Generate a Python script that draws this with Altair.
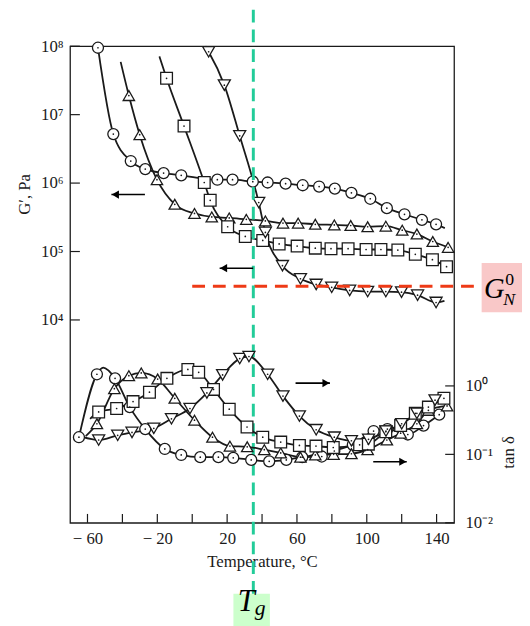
import altair as alt
import pandas as pd

# ---------------- data ----------------
# Storage modulus G' (Pa): marker points
circ_G_T = [-54, -45.2, -35.2, -26.9, -16.4, -6.3, 14.4, 23.1, 34.7, 43.2, 53.5, 63.3, 72.7, 81.7, 91.2, 102, 111.5, 121.6, 131.6, 139.7]
circ_G_V = [9.5e7, 5.2e6, 2.1e6, 1.6e6, 1.4e6, 1.3e6, 1.12e6, 1.12e6, 1.05e6, 1.02e6, 9.8e5, 9.3e5, 8.9e5, 8.3e5, 7.2e5, 5.9e5, 4.3e5, 3.5e5, 2.9e5, 2.5e5]
triu_G_T = [-36.3, -30.1, -20.2, -10, 1.3, 11.2, 21.2, 31, 41.9, 52, 60.7, 70.5, 81.4, 90.8, 100.5, 110.9, 120.3, 128.7, 137.8, 146.6]
triu_G_V = [1.9e7, 5.1e6, 1.12e6, 4.9e5, 3.6e5, 3.2e5, 3.1e5, 2.95e5, 2.8e5, 2.6e5, 2.6e5, 2.5e5, 2.45e5, 2.4e5, 2.3e5, 2.35e5, 2.05e5, 1.8e5, 1.4e5, 1.15e5]
squa_G_T = [-14.7, -4.7, 6.9, 10.3, 20.3, 30.4, 40.4, 49.8, 60.1, 70.5, 79.5, 89.3, 99.6, 108.1, 117.8, 127.8, 137.6, 145.7]
squa_G_V = [3.4e7, 6.8e6, 1.02e6, 5.6e5, 2.3e5, 1.66e5, 1.45e5, 1.29e5, 1.2e5, 1.12e5, 1.1e5, 1.1e5, 1.07e5, 1.07e5, 1.05e5, 9.1e4, 7.6e4, 6.0e4]
trid_G_T = [9.4, 18.4, 27.2, 38.1, 41.9, 51.7, 62, 71, 79.9, 90.2, 100.5, 110.9, 119.9, 129.1, 139.7]
trid_G_V = [8.3e7, 2.7e7, 4.9e6, 5.2e5, 1.9e5, 6.2e4, 4.0e4, 3.3e4, 3.0e4, 2.7e4, 2.6e4, 2.6e4, 2.55e4, 2.3e4, 1.8e4]
# line-only continuation points of the G' curves
circ_G_lineT, circ_G_lineV = [144.7], [2.2e5]
triu_G_lineT, triu_G_lineV = [-41], [5.9e7]
squa_G_lineT, squa_G_lineV = [-18.8], [7.1e7]
trid_G_lineT, trid_G_lineV = [7.5, 144.5], [1.0e8, 1.9e4]

# Loss tangent tan(delta): marker points
circ_t_T = [-64.9, -54.6, -44.2, -35.8, -26.9, -15.7, -6.3, 4.6, 15, 23.5, 33.8, 44.1, 53.9, 63, 74.2, 81.4, 92, 103.9, 111.8, 123.5, 132.5, 141.5]
circ_t_V = [0.178, 1.48, 1.29, 0.49, 0.234, 0.120, 0.098, 0.091, 0.091, 0.089, 0.083, 0.079, 0.083, 0.091, 0.093, 0.112, 0.138, 0.219, 0.234, 0.195, 0.263, 0.38]
triu_t_T = [-54.6, -44.6, -36.3, -29.2, -19.8, -10, 1.3, 11.6, 21.6, 31.5, 41.3, 50.7, 62, 70.5, 81, 91.2, 100.5, 111.5, 119.4, 128.7, 135.3, 146]
triu_t_V = [0.28, 0.91, 1.41, 1.55, 1.26, 0.66, 0.316, 0.178, 0.132, 0.129, 0.117, 0.105, 0.091, 0.098, 0.10, 0.102, 0.117, 0.162, 0.204, 0.28, 0.44, 0.51]
squa_t_T = [-53.6, -43.3, -33.9, -24.5, -14.5, -2.5, 3.7, 12.2, 21.2, 31.4, 40.4, 50.7, 61.4, 70.9, 80.8, 95.9, 100.9, 110.9, 119.4, 127.8, 135.3, 144.2]
squa_t_V = [0.417, 0.468, 0.59, 0.81, 1.29, 1.74, 1.58, 0.89, 0.457, 0.251, 0.178, 0.151, 0.135, 0.132, 0.126, 0.138, 0.141, 0.214, 0.263, 0.398, 0.49, 0.66]
trid_t_T = [-53.6, -42.7, -34.5, -22, -11.9, -1.3, 8.4, 17.4, 27.2, 32.5, 43.2, 52, 61.4, 71, 81.4, 91.2, 101, 111, 120, 128.7, 139.1]
trid_t_V = [0.162, 0.19, 0.209, 0.24, 0.331, 0.468, 0.79, 1.45, 2.51, 2.69, 1.48, 0.71, 0.363, 0.229, 0.178, 0.158, 0.166, 0.219, 0.28, 0.398, 0.62]
circ_t_lineT, circ_t_lineV = [-51], [1.85]
triu_t_lineT, triu_t_lineV = [-61], [0.185]
squa_t_lineT, squa_t_lineV = [-58.5], [0.33]
trid_t_lineT, trid_t_lineV = [-63], [0.18]

# axis ticks / labels
x_ticks = [-60, -40, -20, 0, 20, 40, 60, 80, 100, 120, 140]
x_labels = [-60, -20, 20, 60, 100, 140]
g_ticks = [1e4, 1e5, 1e6, 1e7, 1e8]
g_sup = ['⁴', '⁵', '⁶', '⁷', '⁸']
t_ticks = [0.01, 0.1, 1]
t_sup = ['⁻²', '⁻¹', '⁰']

# annotations
Tg = 35
Tg_line_V = [3.4e8, 1.0]
Tg_box = dict(T1=[23.6], T2=[44.5], v1=[1.0], v2=[0.3])
GN0 = 3.1e4
GN0_line_T = [0, 165.2]
GN0_box = dict(T1=[165.8], T2=[190], v1=[6.8e4], v2=[1.3e4])
arrows_G = dict(T1=[-46.3, 15.7], T2=[-27.1, 34.9], v=[6.8e5, 5.7e4])
arrows_t = dict(T1=[59.2, 103.7], T2=[78.9, 122.9], v=[1.1, 0.078])

# ---------------- build tables ----------------
def rows(series, T, V, marker):
    return [dict(series=series, T=t, v=v, marker=marker) for t, v in zip(T, V)]

G_df = pd.DataFrame(
    rows('circle', circ_G_T, circ_G_V, True) + rows('circle', circ_G_lineT, circ_G_lineV, False)
    + rows('tri_up', triu_G_T, triu_G_V, True) + rows('tri_up', triu_G_lineT, triu_G_lineV, False)
    + rows('square', squa_G_T, squa_G_V, True) + rows('square', squa_G_lineT, squa_G_lineV, False)
    + rows('tri_down', trid_G_T, trid_G_V, True) + rows('tri_down', trid_G_lineT, trid_G_lineV, False)
)
t_df = pd.DataFrame(
    rows('circle', circ_t_T, circ_t_V, True) + rows('circle', circ_t_lineT, circ_t_lineV, False)
    + rows('tri_up', triu_t_T, triu_t_V, True) + rows('tri_up', triu_t_lineT, triu_t_lineV, False)
    + rows('square', squa_t_T, squa_t_V, True) + rows('square', squa_t_lineT, squa_t_lineV, False)
    + rows('tri_down', trid_t_T, trid_t_V, True) + rows('tri_down', trid_t_lineT, trid_t_lineV, False)
)

FONT = 'Liberation Serif'
INK = '#1a1a1a'
W, H = 390, 484

xs = alt.Scale(domain=[-70, 150], nice=False, zero=False)
yG = alt.Scale(type='log', domain=[10.86, 1e8], nice=False)
yT = alt.Scale(type='log', domain=[0.01, 92000], nice=False)

shape_scale = alt.Scale(domain=['circle', 'tri_up', 'square', 'tri_down'],
                        range=['circle', 'triangle-up', 'square', 'triangle-down'])
size_scale = alt.Scale(domain=['circle', 'tri_up', 'square', 'tri_down'], range=[125, 150, 100, 150])

x_axis = alt.Axis(values=x_labels, labelExpr="datum.value < 0 ? '− ' + abs(datum.value) : '' + datum.value",
                  ticks=False, domain=False, grid=False, labelFont=FONT, labelFontSize=17, labelColor=INK,
                  labelPadding=8, title='Temperature, °C', titleFont=FONT, titleFontSize=17,
                  titleFontWeight='normal', titleColor=INK, titlePadding=7)
g_expr = "'10' + " + str(g_sup) + "[round(log(datum.value)/LN10) - 4]"
g_axis = alt.Axis(orient='left', values=g_ticks, labelExpr=g_expr, ticks=False, domain=False, grid=False,
                  labelFont=FONT, labelFontSize=17, labelColor=INK, labelPadding=7,
                  title='G′, Pa', titleFont=FONT, titleFontSize=17, titleFontWeight='normal', titleColor=INK,
                  titleAngle=270, titleX=-46, titleY=150, titleAlign='center', titleBaseline='middle')
t_expr = "'10' + " + str(t_sup) + "[round(log(datum.value)/LN10) + 2]"
t_axis = alt.Axis(orient='right', values=t_ticks, labelExpr=t_expr, ticks=False, domain=False, grid=False,
                  labelFont=FONT, labelFontSize=17, labelColor=INK, labelPadding=11,
                  title='tan δ', titleFont=FONT, titleFontSize=17, titleFontWeight='normal', titleColor=INK,
                  titleAngle=270, titleX=55, titleY=412, titleAlign='center', titleBaseline='middle')


def X(field):
    return alt.X(field, scale=xs, axis=x_axis)


def curve_layers(df, yscale, axis):
    base = alt.Chart(df)
    line = base.mark_line(color=INK, strokeWidth=1.8, interpolate='monotone').encode(
        x=X('T:Q'), y=alt.Y('v:Q', scale=yscale, axis=axis), detail='series:N')
    pts = base.transform_filter('datum.marker').mark_point(
        filled=True, fill='white', stroke=INK, strokeWidth=1.3, opacity=1).encode(
        x=X('T:Q'), y=alt.Y('v:Q', scale=yscale, axis=axis),
        shape=alt.Shape('series:N', scale=shape_scale, legend=None),
        size=alt.Size('series:N', scale=size_scale, legend=None))
    dots = base.transform_filter('datum.marker').mark_circle(color=INK, size=3, opacity=1).encode(
        x=X('T:Q'), y=alt.Y('v:Q', scale=yscale, axis=axis))
    return [line, pts, dots]


def arrow_layers(d, yscale, axis, head_left):
    df = pd.DataFrame(d)
    shaft = alt.Chart(df).mark_rule(color='black', strokeWidth=1.6).encode(
        x=X('T1:Q'), x2='T2:Q', y=alt.Y('v:Q', scale=yscale, axis=axis))
    head = alt.Chart(df).mark_point(shape='triangle-left' if head_left else 'triangle-right',
                                    filled=True, color='black', size=70, opacity=1,
                                    xOffset=4 if head_left else -4).encode(
        x=X('T1:Q' if head_left else 'T2:Q'), y=alt.Y('v:Q', scale=yscale, axis=axis))
    return [shaft, head]

# inward ticks
xt = alt.Chart(pd.DataFrame({'T': x_ticks})).mark_rule(color=INK, strokeWidth=1.2).encode(
    x=X('T:Q'), y=alt.value(H), y2=alt.value(H - 9))
gt = alt.Chart(pd.DataFrame({'v': g_ticks})).mark_rule(color=INK, strokeWidth=1.2).encode(
    y=alt.Y('v:Q', scale=yG, axis=g_axis), x=alt.value(0), x2=alt.value(10))
tt = alt.Chart(pd.DataFrame({'v': t_ticks})).mark_rule(color=INK, strokeWidth=1.2).encode(
    y=alt.Y('v:Q', scale=yT, axis=t_axis), x=alt.value(W - 9), x2=alt.value(W))

# annotations (in G' coordinates)
tg_box = alt.Chart(pd.DataFrame(Tg_box)).mark_rect(color='#ccffcc').encode(
    x=X('T1:Q'), x2='T2:Q', y=alt.Y('v1:Q', scale=yG, axis=g_axis), y2='v2:Q')
tg_line = alt.Chart(pd.DataFrame({'T': [Tg, Tg], 'v': Tg_line_V})).mark_line(
    color='#22cc99', strokeWidth=3, strokeDash=[13, 7]).encode(
    x=X('T:Q'), y=alt.Y('v:Q', scale=yG, axis=g_axis), order='v:Q')
gn_box = alt.Chart(pd.DataFrame(GN0_box)).mark_rect(color='#f9c8c8').encode(
    x=X('T1:Q'), x2='T2:Q', y=alt.Y('v1:Q', scale=yG, axis=g_axis), y2='v2:Q')
gn_line = alt.Chart(pd.DataFrame({'T': GN0_line_T, 'v': [GN0, GN0]})).mark_line(
    color='#ee3a16', strokeWidth=3, strokeDash=[13, 8]).encode(
    x=X('T:Q'), y=alt.Y('v:Q', scale=yG, axis=g_axis))


def label(text, T, v, size, align, italic=True):
    return alt.Chart(pd.DataFrame({'T': [T], 'v': [v], 's': [text]})).mark_text(
        font=FONT, fontSize=size, fontStyle='italic' if italic else 'normal', align=align,
        baseline='alphabetic', color='black').encode(
        x=X('T:Q'), y=alt.Y('v:Q', scale=yG, axis=g_axis), text='s:N')

texts = [label('T', 31, 0.55, 31, 'center'), label('g', 35.8, 0.48, 22, 'left'),
         label('G', 173.1, 2.1e4, 29, 'center'), label('0', 179.3, 3.2e4, 18, 'left', italic=False),
         label('N', 178.2, 1.64e4, 18, 'left')]

G_group = alt.layer(*(curve_layers(G_df, yG, g_axis) + [gt, xt, gn_box, gn_line, tg_box, tg_line]
                      + arrow_layers(arrows_G, yG, g_axis, True) + texts))
t_group = alt.layer(*(curve_layers(t_df, yT, t_axis) + [tt] + arrow_layers(arrows_t, yT, t_axis, False)))

chart = alt.layer(G_group, t_group).resolve_scale(y='independent').properties(
    width=W, height=H,
    autosize=alt.AutoSizeParams(type='none'),
    padding={'left': 63, 'top': 34, 'right': 69, 'bottom': 100},
    background='white'
).configure_view(stroke=INK, strokeWidth=1.3)

chart.save('out.html', embed_options={'renderer': 'svg', 'actions': False})
